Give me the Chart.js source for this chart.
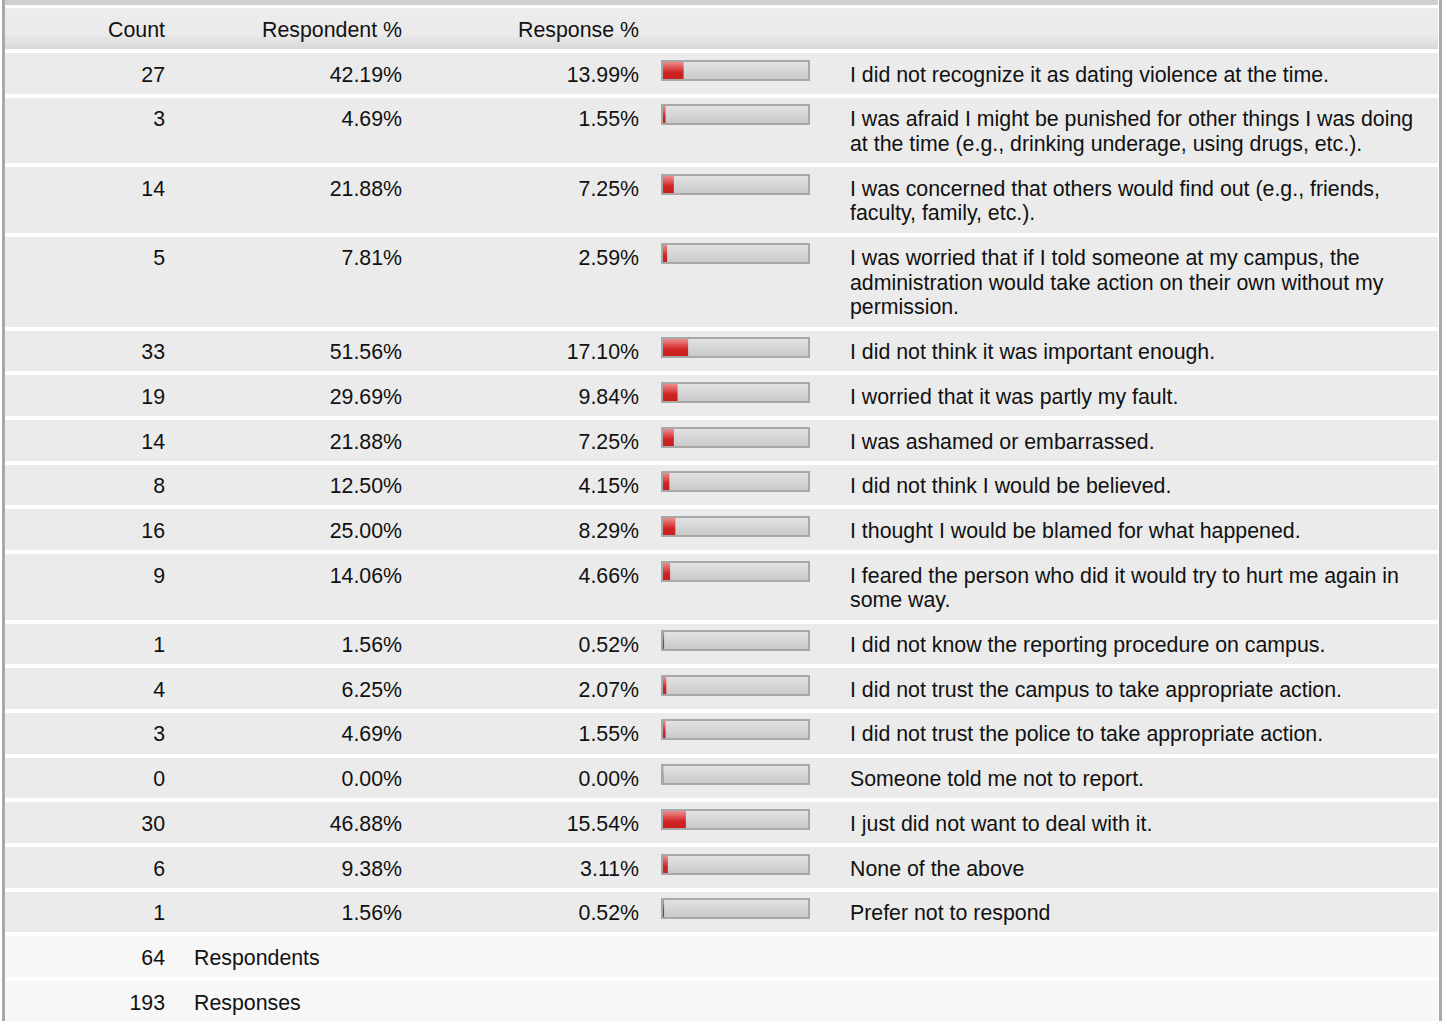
<!DOCTYPE html>
<html><head><meta charset="utf-8">
<script src="https://cdn.jsdelivr.net/npm/chart.js@4/dist/chart.umd.min.js"></script>
<style>
html,body{margin:0;padding:0;background:#fff;}
body{font-family:"Liberation Sans",Arial,Helvetica,sans-serif;font-size:21.33px;color:#111;}
#wrap{position:absolute;left:2px;top:0;width:1434px;height:1021px;border-left:3px solid #a9a9a9;border-right:3px solid #a9a9a9;}
#topstrip{height:5px;background:#cfcfcf;width:1433px;}
.row{position:relative;width:1433px;margin-top:4px;padding:9.5px 0 6.5px 0;line-height:24.7px;background:#ebebeb;}
.hdr{margin-top:3px;height:23px;padding:10px 0 8px 0;background:linear-gradient(#ececec 0%,#ebebeb 62%,#d8d8d8 100%);}
.foot{background:#f7f7f7;}
.c{position:absolute;top:9.5px;text-align:right;white-space:nowrap;}
.hdr .c{top:10px;}
.lab{margin-left:845px;width:575px;min-height:24.7px;}
.bar{position:absolute;left:656px;top:6.5px;width:145px;height:17px;border:2px solid #a8a8a8;}
.bar canvas{display:block;}
</style>
</head><body>
<div id="wrap"><div id="topstrip"></div></div>
<script>
const headers = ["Count", "Respondent %", "Response %"];
const counts = [27, 3, 14, 5, 33, 19, 14, 8, 16, 9, 1, 4, 3, 0, 30, 6, 1];
const respondentPct = [42.19, 4.69, 21.88, 7.81, 51.56, 29.69, 21.88, 12.50, 25.00, 14.06, 1.56, 6.25, 4.69, 0.00, 46.88, 9.38, 1.56];
const responsePct = [13.99, 1.55, 7.25, 2.59, 17.10, 9.84, 7.25, 4.15, 8.29, 4.66, 0.52, 2.07, 1.55, 0.00, 15.54, 3.11, 0.52];
const labels = [
  "I did not recognize it as dating violence at the time.",
  "I was afraid I might be punished for other things I was doing at the time (e.g., drinking underage, using drugs, etc.).",
  "I was concerned that others would find out (e.g., friends, faculty, family, etc.).",
  "I was worried that if I told someone at my campus, the administration would take action on their own without my permission.",
  "I did not think it was important enough.",
  "I worried that it was partly my fault.",
  "I was ashamed or embarrassed.",
  "I did not think I would be believed.",
  "I thought I would be blamed for what happened.",
  "I feared the person who did it would try to hurt me again in some way.",
  "I did not know the reporting procedure on campus.",
  "I did not trust the campus to take appropriate action.",
  "I did not trust the police to take appropriate action.",
  "Someone told me not to report.",
  "I just did not want to deal with it.",
  "None of the above",
  "Prefer not to respond"
];
const totalCounts = [64, 193];
const totalLabels = ["Respondents", "Responses"];

const wrap = document.getElementById('wrap');
function cell(parent, text, right, width){
  const d = document.createElement('div');
  d.className = 'c';
  d.style.left = (right - width) + 'px';
  d.style.width = width + 'px';
  d.textContent = text;
  parent.appendChild(d);
  return d;
}
// header
const h = document.createElement('div');
h.className = 'row hdr';
cell(h, headers[0], 160, 150);
cell(h, headers[1], 397, 230);
cell(h, headers[2], 634, 230);
wrap.appendChild(h);

function grad(ctx, stops){
  const ca = ctx.chart.chartArea;
  if(!ca) return stops[stops.length-1][1];
  const g = ctx.chart.ctx.createLinearGradient(0, ca.top, 0, ca.bottom);
  stops.forEach(s => g.addColorStop(s[0], s[1]));
  return g;
}
const redStops = [[0,'#ec8c8c'],[0.45,'#d94040'],[0.6,'#cf2424'],[1,'#c81e1e']];
const grayStops = [[0,'#e2e2e2'],[0.5,'#d6d6d6'],[1,'#c9c9c9']];

labels.forEach((lab, i) => {
  const r = document.createElement('div');
  r.className = 'row';
  cell(r, String(counts[i]), 160, 150);
  cell(r, respondentPct[i].toFixed(2) + '%', 397, 230);
  cell(r, responsePct[i].toFixed(2) + '%', 634, 230);
  const b = document.createElement('div');
  b.className = 'bar';
  const cv = document.createElement('canvas');
  cv.width = 145; cv.height = 17;
  b.appendChild(cv);
  r.appendChild(b);
  const l = document.createElement('div');
  l.className = 'lab';
  l.textContent = lab;
  r.appendChild(l);
  wrap.appendChild(r);
  new Chart(cv, {
    type: 'bar',
    data: {
      labels: [lab],
      datasets: [
        {data: [responsePct[i]], backgroundColor: ctx => grad(ctx, redStops), grouped: false, barPercentage: 1, categoryPercentage: 1, borderWidth: 0},
        {data: [100], backgroundColor: ctx => grad(ctx, grayStops), grouped: false, barPercentage: 1, categoryPercentage: 1, borderWidth: 0}
      ]
    },
    options: {
      indexAxis: 'y', responsive: false, animation: false, events: [],
      layout: {padding: 0},
      plugins: {legend: {display: false}, tooltip: {enabled: false}},
      scales: {x: {display: false, min: 0, max: 100}, y: {display: false}}
    }
  });
});

totalCounts.forEach((c, i) => {
  const r = document.createElement('div');
  r.className = 'row foot';
  cell(r, String(c), 160, 150);
  const t = document.createElement('div');
  t.className = 'c';
  t.style.left = '189px';
  t.style.textAlign = 'left';
  t.textContent = totalLabels[i];
  r.appendChild(t);
  const sp = document.createElement('div');
  sp.style.height = '24.7px';
  r.appendChild(sp);
  wrap.appendChild(r);
});
</script>
</body></html>
